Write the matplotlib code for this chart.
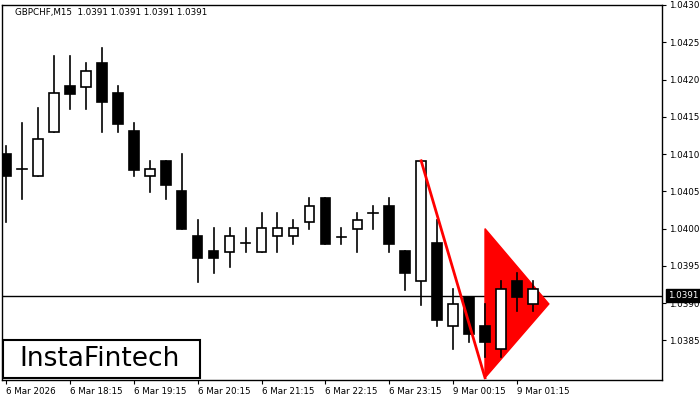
import matplotlib
matplotlib.use("Agg")
import matplotlib.pyplot as plt
from matplotlib.patches import Rectangle, Polygon

opens  = [1.04100,1.04080,1.04070,1.04130,1.04191,1.04190,1.04222,1.04182,1.04131,1.04070,1.04091,1.04051,1.03990,1.03970,1.03969,1.03981,1.03969,1.03990,1.03990,1.04009,1.04041,1.03989,1.04000,1.04021,1.04031,1.03970,1.03930,1.03981,1.03869,1.03909,1.03870,1.03839,1.03930,1.03899]
closes = [1.04070,1.04080,1.04120,1.04182,1.04181,1.04212,1.04170,1.04141,1.04079,1.04080,1.04059,1.04000,1.03960,1.03960,1.03990,1.03981,1.04001,1.04001,1.04001,1.04031,1.03980,1.03989,1.04011,1.04021,1.03980,1.03940,1.04091,1.03878,1.03899,1.03859,1.03848,1.03919,1.03909,1.03919]
highs  = [1.04111,1.04142,1.04162,1.04232,1.04232,1.04222,1.04242,1.04191,1.04142,1.04091,1.04091,1.04100,1.04011,1.04001,1.04001,1.04001,1.04021,1.04021,1.04011,1.04041,1.04041,1.04001,1.04021,1.04031,1.04041,1.03970,1.04091,1.04011,1.03919,1.03909,1.03899,1.03930,1.03941,1.03930]
lows   = [1.04009,1.04040,1.04070,1.04130,1.04161,1.04161,1.04130,1.04130,1.04070,1.04049,1.04040,1.04000,1.03929,1.03940,1.03949,1.03969,1.03969,1.03969,1.03980,1.04000,1.03980,1.03980,1.03969,1.04000,1.03969,1.03918,1.03898,1.03869,1.03838,1.03848,1.03828,1.03828,1.03889,1.03889]
xlabels = ["6 Mar 2026","6 Mar 18:15","6 Mar 19:15","6 Mar 20:15","6 Mar 21:15","6 Mar 22:15","6 Mar 23:15","9 Mar 00:15","9 Mar 01:15"]
yticks = [1.0385,1.0390,1.0395,1.0400,1.0405,1.0410,1.0415,1.0420,1.0425,1.0430]
current = 1.0391
line_pts = [(26, 1.04091), (30, 1.03800)]
tri_pts = [(30, 1.0400), (30, 1.03800), (34, 1.03899)]

fig = plt.figure(figsize=(7,4), dpi=100)
ax = fig.add_axes([0.003, 0.05, 0.943, 0.9375])
w = 0.6
for i,(o,c,h,l) in enumerate(zip(opens,closes,highs,lows)):
    ax.plot([i,i],[l,h],color='black',lw=1.2,zorder=3)
    if abs(c-o) < 1e-6:
        ax.plot([i-w/2,i+w/2],[o,o],color='black',lw=1.2,zorder=3)
    else:
        fc = 'white' if c>o else 'black'
        ax.add_patch(Rectangle((i-w/2,min(o,c)),w,abs(c-o),facecolor=fc,edgecolor='black',lw=1.2,zorder=4))
ax.add_patch(Polygon(tri_pts, closed=True, facecolor='red', edgecolor='red', zorder=2))
ax.plot([p[0] for p in line_pts],[p[1] for p in line_pts],color='red',lw=2,zorder=5)
ax.axhline(current,color='black',lw=1,zorder=1)

ax.set_xlim(-0.25,41.1)
ax.set_ylim(1.03797,1.0430)
ax.set_xticks(range(0,4*len(xlabels),4))
ax.set_xticklabels(xlabels,fontsize=6.3, ha='left')
ax.yaxis.tick_right()
ax.set_yticks(yticks)
ax.set_yticklabels([f"{v:.4f}" for v in yticks],fontsize=6.3)
ax.tick_params(length=3,width=0.8,pad=2)
for s in ax.spines.values():
    s.set_linewidth(1)
ax.annotate("1.0391", xy=(1.0, current), xycoords=('axes fraction','data'), xytext=(4,0),
            textcoords='offset points', va='center', ha='left', fontsize=6.3, color='white',
            bbox=dict(boxstyle='square,pad=0.25', fc='black', ec='black'), zorder=10, annotation_clip=False)
ax.text(0.02, 0.992, "GBPCHF,M15  1.0391 1.0391 1.0391 1.0391", transform=ax.transAxes,
        fontsize=6.3, va='top', ha='left')
fig.patches.append(Rectangle((3/700, 22/400), 197/700, 38/400, transform=fig.transFigure,
                             facecolor='white', edgecolor='black', lw=1.5, zorder=20))
fig.text(100/700, 41/400, "InstaFintech", fontsize=19, ha='center', va='center', zorder=21)
fig.savefig("out.png")
